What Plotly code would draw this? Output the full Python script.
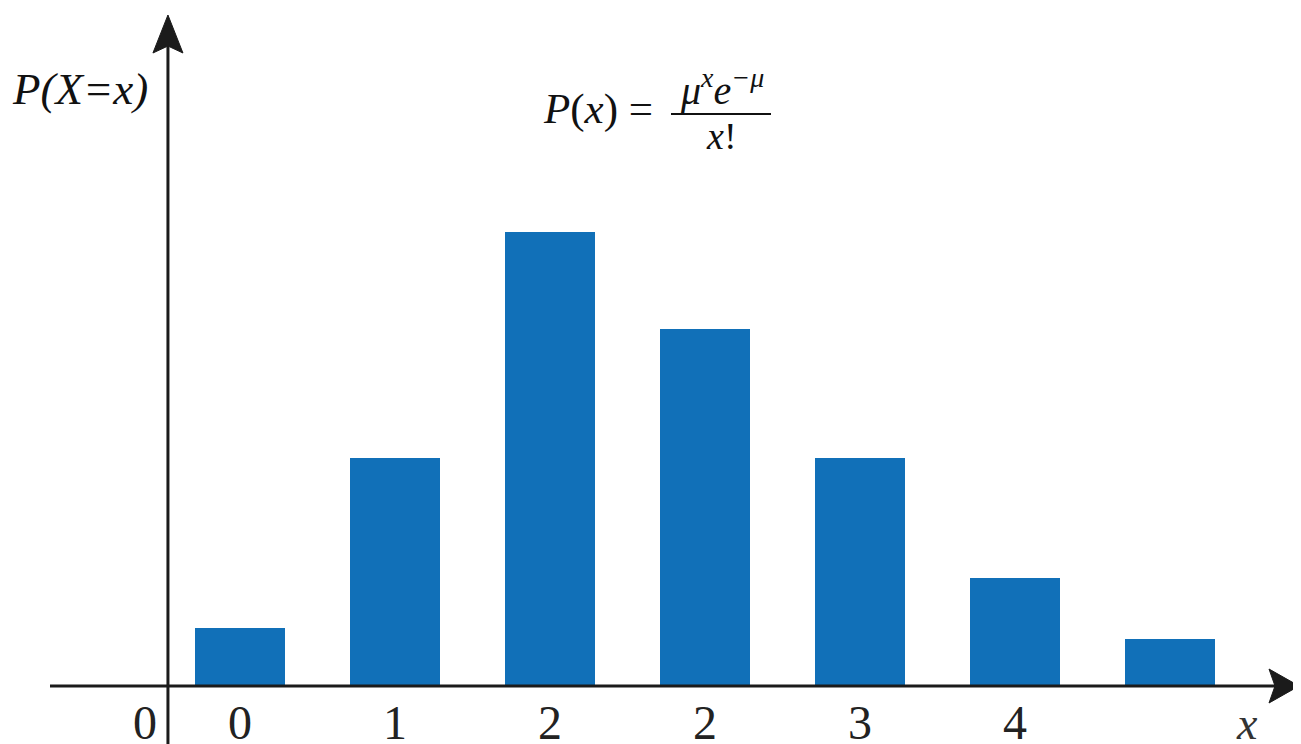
import plotly.graph_objects as go

# bar data
positions = [0, 1, 2, 3, 4, 5, 6]
probabilities = [0.051, 0.201, 0.400, 0.315, 0.201, 0.095, 0.041]
tick_labels = ["0", "1", "2", "2", "3", "4", ""]
origin_label = "0"
origin_pos = -0.613

W, H = 1301, 744
OFF = 8                     # the page body adds 8px around the figure
AXIS_PX = 686               # page row of the horizontal axis
X_MIN, X_MAX = -1.497, 6.897
Y_MAX = 0.5974
AXIS_X = -0.465             # where the vertical axis sits
INK = "#1b1b1b"
SERIF = "Liberation Serif"
PLOT_H = AXIS_PX - OFF


def px_x(p):
    # page pixel -> paper x
    return (p - OFF) / W


def px_y(p):
    # page pixel -> paper y
    return (AXIS_PX - p) / PLOT_H


fig = go.Figure()
fig.add_trace(go.Bar(x=positions, y=probabilities, width=0.58,
                     marker=dict(color="#1170B8", line=dict(width=0)),
                     hoverinfo="skip"))

# paper refs everywhere so nothing gets clipped at the plot edge
shapes = [
    # x axis
    dict(type="line", xref="paper", yref="paper", x0=px_x(50), x1=px_x(1276),
         y0=0, y1=0, line=dict(color=INK, width=3)),
    # y axis
    dict(type="line", xref="x", yref="paper", x0=AXIS_X, x1=AXIS_X,
         y0=px_y(750), y1=px_y(45), line=dict(color=INK, width=3)),
    # arrow heads
    dict(type="path", xref="x", yref="paper", xsizemode="pixel", ysizemode="pixel",
         xanchor=AXIS_X, yanchor=px_y(15),
         path="M 0,0 L -15,-38 L 0,-31 L 15,-38 Z",
         fillcolor=INK, line=dict(color=INK, width=1)),
    dict(type="path", xref="paper", yref="paper", xsizemode="pixel", ysizemode="pixel",
         xanchor=px_x(1299), yanchor=0,
         path="M 0,0 L -30,17 L -24,0 L -30,-17 Z",
         fillcolor=INK, line=dict(color=INK, width=1)),
    # fraction bar of the formula
    dict(type="line", xref="paper", yref="paper", x0=px_x(671), x1=px_x(771),
         y0=px_y(114), y1=px_y(114), line=dict(color="#111", width=2)),
]

annotations = [
    dict(text="<i>P(X=x)</i>", x=px_x(80), y=px_y(89), font=dict(size=45)),
    dict(text="<i>x</i>", x=px_x(1247), y=px_y(723), font=dict(size=46, color="#333")),
    dict(text="<i>P</i>(<i>x</i>) =", x=px_x(598), y=px_y(109), font=dict(size=43)),
    dict(text="<i>μ<sup>x</sup>e<sup>−μ</sup></i>", x=px_x(722), y=px_y(87), font=dict(size=40)),
    dict(text="<i>x</i>!", x=px_x(721), y=px_y(136), font=dict(size=38)),
]
for a in annotations:
    a.update(xref="paper", yref="paper", showarrow=False,
             xanchor="center", yanchor="middle")
    a["font"].setdefault("color", "#111")
    a["font"]["family"] = SERIF

fig.update_layout(
    width=W, height=H, autosize=False,
    margin=dict(l=0, r=0, t=0, b=H - PLOT_H),
    plot_bgcolor="white", paper_bgcolor="white",
    showlegend=False, shapes=shapes, annotations=annotations,
    bargap=0,
)
fig.update_xaxes(range=[X_MIN, X_MAX], showgrid=False, zeroline=False, showline=False,
                 automargin=False,
                 tickvals=[origin_pos] + positions, ticktext=[origin_label] + tick_labels,
                 ticks="", ticklabelstandoff=4,
                 tickfont=dict(family=SERIF, size=48, color="#222"))
fig.update_yaxes(range=[0, Y_MAX], visible=False, automargin=False)

fig.write_html("out.html")
